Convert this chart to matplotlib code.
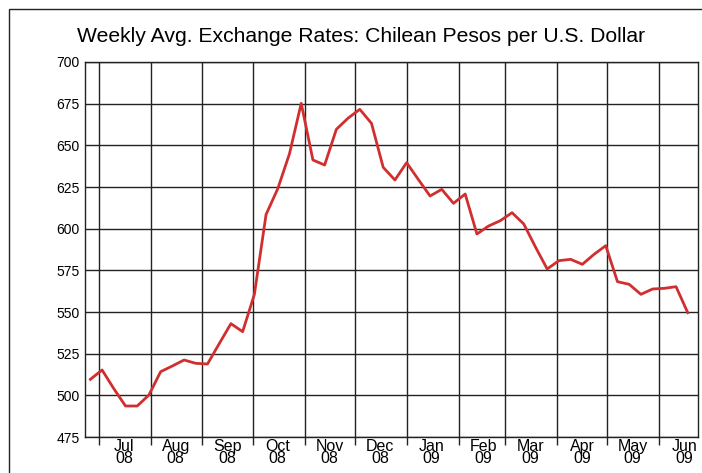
from datetime import datetime

import numpy as np
import pandas as pd
import matplotlib
matplotlib.use("Agg")
import matplotlib.pyplot as plt
import matplotlib.dates as mdates
from matplotlib.patches import Rectangle


# =========================================================
# Data (weekly averages, CLP per USD)
# =========================================================

WEEK_START = "2008-06-26"

rate = [
    509.6, 515.2, 504.0, 493.6, 493.6, 500.2, 514.2, 517.6, 521.2, 519.2,
    518.8, 531.0, 543.0, 538.2, 560.5, 608.5, 624.0, 645.0, 675.2, 641.2,
    638.2, 659.6, 666.3, 671.6, 663.2, 636.8, 629.2, 639.6, 629.5, 619.6,
    623.6, 615.2, 620.8, 596.8, 601.6, 604.8, 609.6, 602.8, 589.0, 575.8,
    580.8, 581.6, 578.6, 584.6, 589.8, 568.2, 566.6, 560.6, 563.8, 564.2,
    565.2, 549.6,
]

y_ticks = [475, 500, 525, 550, 575, 600, 625, 650, 675, 700]

TITLE = "Weekly Avg. Exchange Rates: Chilean Pesos per U.S. Dollar"
LINE_COLOR = "#d12f2f"

dates = pd.date_range(WEEK_START, periods=len(rate), freq="7D")


# =========================================================
# Plot
# =========================================================

plt.rcParams["font.family"] = ["Liberation Sans", "DejaVu Sans"]

fig = plt.figure(figsize=(7.02, 4.73), dpi=100)
ax = fig.add_axes([85 / 702, 36 / 473, 613 / 702, 375 / 473])

# outer frame (cropped on right and bottom)
fig.patches.append(Rectangle(
    (9 / 702, -0.1), 1.2, (473 - 9) / 473 + 0.1,
    transform=fig.transFigure, fill=False, edgecolor="#222222", lw=1.0,
))

ax.plot(dates, rate, color=LINE_COLOR, lw=2.0, solid_joinstyle="round")

ax.set_ylim(475, 700)
ax.set_yticks(y_ticks)
ax.set_xlim(datetime(2008, 6, 22, 19), datetime(2009, 6, 24, 3))

# month boundaries: gridlines + short tick marks
ax.xaxis.set_major_locator(mdates.MonthLocator(bymonthday=1))
ax.xaxis.set_major_formatter(plt.NullFormatter())
# labels centred in each month
ax.xaxis.set_minor_locator(mdates.MonthLocator(bymonthday=16))
ax.xaxis.set_minor_formatter(mdates.DateFormatter("%b\n%y"))

ax.tick_params(axis="x", which="major", length=6, width=1.0, color="#222222")
ax.tick_params(axis="x", which="minor", length=0, pad=1.5, labelsize=11.5)
ax.tick_params(axis="y", length=0, pad=4, labelsize=10)
for lbl in ax.xaxis.get_minorticklabels():
    lbl.set_linespacing(0.78)

ax.grid(True, which="major", color="#222222", lw=1.0)
for s in ax.spines.values():
    s.set_color("#222222")
    s.set_linewidth(1.0)

fig.text(361 / 702, 1 - 37 / 473, TITLE, ha="center", va="center", fontsize=15.2)

fig.savefig("out.png", dpi=100)
plt.close(fig)
